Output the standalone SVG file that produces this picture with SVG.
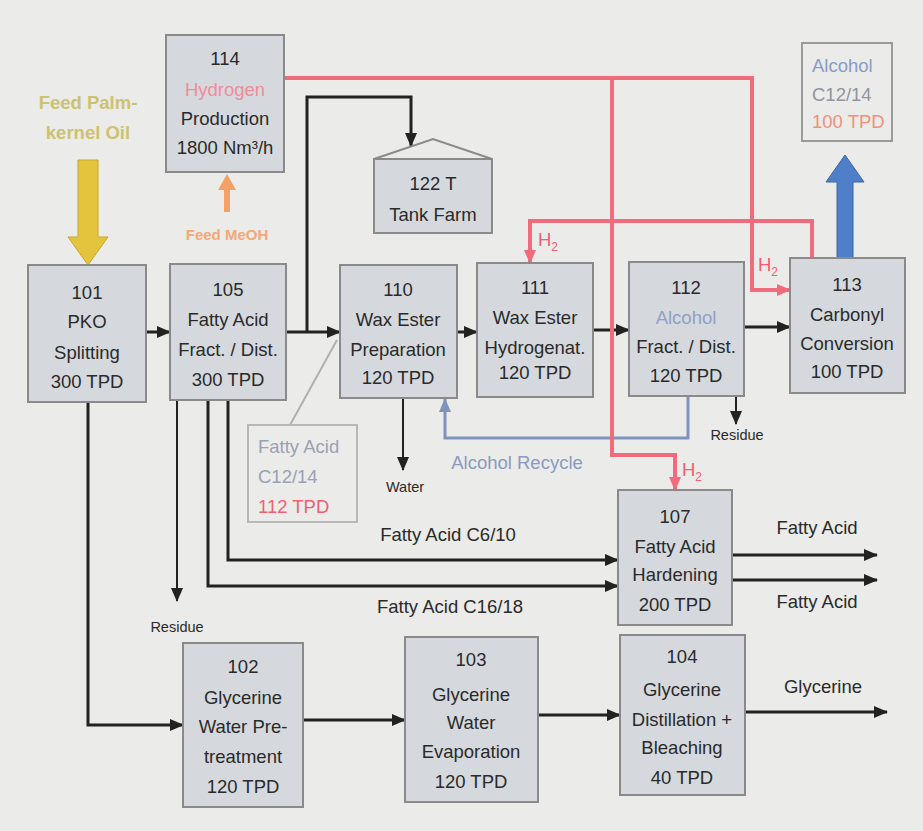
<svg xmlns="http://www.w3.org/2000/svg" width="923" height="831" viewBox="0 0 923 831">
<style>
.bg{fill:#ebebe9}
.box{fill:#d5d9dd;stroke:#8a8a8a;stroke-width:2}
.t{font-family:"Liberation Sans",Arial,sans-serif;font-size:18.5px;fill:#2a2a2a;text-anchor:middle}
.s{font-size:14.5px}
.k{fill:none;stroke:#222;stroke-width:3}
.r{fill:none;stroke:#f06c7c;stroke-width:4}
.b{fill:none;stroke:#7f93bf;stroke-width:3}
.g{fill:none;stroke:#b0b0b0;stroke-width:2}
.red{fill:#f06070}
.blu{fill:#8fa0c8}
</style>
<defs>
<marker id="ak" markerUnits="userSpaceOnUse" markerWidth="14" markerHeight="14" refX="13" refY="7" orient="auto"><path d="M0,1 L14,7 L0,13 Z" fill="#222"/></marker>
<marker id="ar" markerUnits="userSpaceOnUse" markerWidth="14" markerHeight="14" refX="13" refY="7" orient="auto"><path d="M0,1 L14,7 L0,13 Z" fill="#f06c7c"/></marker>
<marker id="ab" markerUnits="userSpaceOnUse" markerWidth="14" markerHeight="14" refX="13" refY="7" orient="auto"><path d="M0,1 L14,7 L0,13 Z" fill="#7f93bf"/></marker>
</defs>
<rect class="bg" x="0" y="0" width="923" height="831"/>

<g id="connectors">
<path class="k" d="M146,332 H170" marker-end="url(#ak)"/>
<path class="k" d="M286,332 H340" marker-end="url(#ak)"/>
<path class="k" d="M307,332 V97 H411 V146" marker-end="url(#ak)"/>
<path class="k" d="M457,332 H477" marker-end="url(#ak)"/>
<path class="k" d="M593,330 H629" marker-end="url(#ak)"/>
<path class="k" d="M744,327 H790" marker-end="url(#ak)"/>
<path class="k" style="stroke-width:2" d="M736,396 V424" marker-end="url(#ak)"/>
<path class="k" style="stroke-width:2" d="M403,398 V470" marker-end="url(#ak)"/>
<path class="b" d="M688,396 V438 H445 V399" marker-end="url(#ab)"/>
<path class="k" style="stroke-width:2" d="M177,400 V601" marker-end="url(#ak)"/>
<path class="k" d="M208,400 V586 H618" marker-end="url(#ak)"/>
<path class="k" d="M228,400 V560 H618" marker-end="url(#ak)"/>
<path class="k" d="M732,555 H877" marker-end="url(#ak)"/>
<path class="k" d="M732,580 H877" marker-end="url(#ak)"/>
<path class="k" d="M88,402 V725 H183" marker-end="url(#ak)"/>
<path class="k" d="M303,720 H405" marker-end="url(#ak)"/>
<path class="k" d="M538,715 H620" marker-end="url(#ak)"/>
<path class="k" d="M745,712 H887" marker-end="url(#ak)"/>
<path class="r" d="M284,78 H752 V290 H790" marker-end="url(#ar)"/>
<path class="r" d="M612,78 V455 H675 V490" marker-end="url(#ar)"/>
<path class="r" d="M812,258 V221 H530 V263" marker-end="url(#ar)"/>
<path class="g" d="M337,340 L290,425"/>
<polygon points="78,160 98,160 98,237 108,237 88,265 68,237 78,237" fill="#e3c43c" stroke="#c9a82a" stroke-width="1"/>
<polygon points="837,258 853,258 853,182 864,182 845,155 826,182 837,182" fill="#4f7fc8" stroke="#3a66a8" stroke-width="1"/>
<polygon points="224,212 230,212 230,190 236,190 227,174 218,190 224,190" fill="#f5a066"/>
</g>

<g id="feed-pko">
<text class="t" x="88" y="109" style="fill:#cdc272;font-weight:bold">Feed Palm-</text>
<text class="t" x="88" y="139" style="fill:#cdc272;font-weight:bold">kernel Oil</text>
</g>
<g id="feed-meoh">
<text class="t" x="227" y="240" style="fill:#f3a878;font-weight:bold;font-size:15px">Feed MeOH</text>
</g>

<g id="n114">
<rect class="box" x="166" y="35" width="118" height="137"/>
<text class="t" x="225" y="65">114</text>
<text class="t" x="225" y="96" style="fill:#f08c9a">Hydrogen</text>
<text class="t" x="225" y="125">Production</text>
<text class="t" x="225" y="154">1800 Nm³/h</text>
</g>

<g id="n122">
<rect class="box" x="374" y="159" width="118" height="74"/>
<path d="M374,159 L433,139 L492,159" fill="none" stroke="#8a8a8a" stroke-width="2"/>
<text class="t" x="433" y="190">122 T</text>
<text class="t" x="433" y="221">Tank Farm</text>
</g>

<g id="n101">
<rect class="box" x="28" y="265" width="118" height="137"/>
<text class="t" x="87" y="299">101</text>
<text class="t" x="87" y="328">PKO</text>
<text class="t" x="87" y="359">Splitting</text>
<text class="t" x="87" y="388">300 TPD</text>
</g>

<g id="n105">
<rect class="box" x="170" y="264" width="116" height="136"/>
<text class="t" x="228" y="296">105</text>
<text class="t" x="228" y="326">Fatty Acid</text>
<text class="t" x="228" y="356">Fract. / Dist.</text>
<text class="t" x="228" y="386">300 TPD</text>
</g>

<g id="n110">
<rect class="box" x="340" y="265" width="117" height="133"/>
<text class="t" x="398" y="296">110</text>
<text class="t" x="398" y="326">Wax Ester</text>
<text class="t" x="398" y="356">Preparation</text>
<text class="t" x="398" y="384">120 TPD</text>
</g>

<g id="n111">
<rect class="box" x="477" y="263" width="116" height="134"/>
<text class="t" x="535" y="294">111</text>
<text class="t" x="535" y="324">Wax Ester</text>
<text class="t" x="535" y="354">Hydrogenat.</text>
<text class="t" x="535" y="379">120 TPD</text>
</g>

<g id="n112">
<rect class="box" x="629" y="262" width="115" height="134"/>
<text class="t" x="686" y="294">112</text>
<text class="t blu" x="686" y="324">Alcohol</text>
<text class="t" x="686" y="353">Fract. / Dist.</text>
<text class="t" x="686" y="382">120 TPD</text>
</g>

<g id="n113">
<rect class="box" x="790" y="258" width="115" height="135"/>
<text class="t" x="847" y="291">113</text>
<text class="t" x="847" y="321">Carbonyl</text>
<text class="t" x="847" y="350">Conversion</text>
<text class="t" x="847" y="378">100 TPD</text>
</g>

<g id="alcohol-product">
<rect x="802" y="43" width="90" height="98" fill="none" stroke="#9a9a9a" stroke-width="2"/>
<text class="t" x="812" y="72" style="text-anchor:start;fill:#8a9cc4">Alcohol</text>
<text class="t" x="812" y="101" style="text-anchor:start;fill:#8e959e">C12/14</text>
<text class="t" x="812" y="128" style="text-anchor:start;fill:#f0907a">100 TPD</text>
</g>

<g id="fa-c1214">
<rect x="248" y="425" width="109" height="97" fill="none" stroke="#b8b8b8" stroke-width="2"/>
<text class="t" x="258" y="453" style="text-anchor:start;fill:#99a2b2">Fatty Acid</text>
<text class="t" x="258" y="483" style="text-anchor:start;fill:#99a2b2">C12/14</text>
<text class="t red" x="258" y="513" style="text-anchor:start">112 TPD</text>
</g>

<g id="n107">
<rect class="box" x="618" y="490" width="114" height="135"/>
<text class="t" x="675" y="523">107</text>
<text class="t" x="675" y="553">Fatty Acid</text>
<text class="t" x="675" y="581">Hardening</text>
<text class="t" x="675" y="611">200 TPD</text>
</g>

<g id="n102">
<rect class="box" x="183" y="643" width="120" height="164"/>
<text class="t" x="243" y="673">102</text>
<text class="t" x="243" y="704">Glycerine</text>
<text class="t" x="243" y="733">Water Pre-</text>
<text class="t" x="243" y="763">treatment</text>
<text class="t" x="243" y="793">120 TPD</text>
</g>

<g id="n103">
<rect class="box" x="405" y="637" width="133" height="165"/>
<text class="t" x="471" y="666">103</text>
<text class="t" x="471" y="701">Glycerine</text>
<text class="t" x="471" y="729">Water</text>
<text class="t" x="471" y="758">Evaporation</text>
<text class="t" x="471" y="788">120 TPD</text>
</g>

<g id="n104">
<rect class="box" x="620" y="635" width="125" height="160"/>
<text class="t" x="682" y="663">104</text>
<text class="t" x="682" y="696">Glycerine</text>
<text class="t" x="682" y="726">Distillation +</text>
<text class="t" x="682" y="754">Bleaching</text>
<text class="t" x="682" y="784">40 TPD</text>
</g>

<g id="labels">
<text class="t" x="448" y="541">Fatty Acid C6/10</text>
<text class="t" x="450" y="613">Fatty Acid C16/18</text>
<text class="t s" x="177" y="632">Residue</text>
<text class="t s" x="405" y="492">Water</text>
<text class="t s" x="737" y="440">Residue</text>
<text class="t" x="517" y="469" style="fill:#8a9ac0">Alcohol Recycle</text>
<text class="t" x="817" y="534">Fatty Acid</text>
<text class="t" x="817" y="608">Fatty Acid</text>
<text class="t" x="823" y="693">Glycerine</text>
<text class="t red" x="548" y="246">H<tspan dy="5" style="font-size:12px">2</tspan></text>
<text class="t red" x="768" y="271">H<tspan dy="5" style="font-size:12px">2</tspan></text>
<text class="t red" x="692" y="476">H<tspan dy="5" style="font-size:12px">2</tspan></text>
</g>
</svg>
